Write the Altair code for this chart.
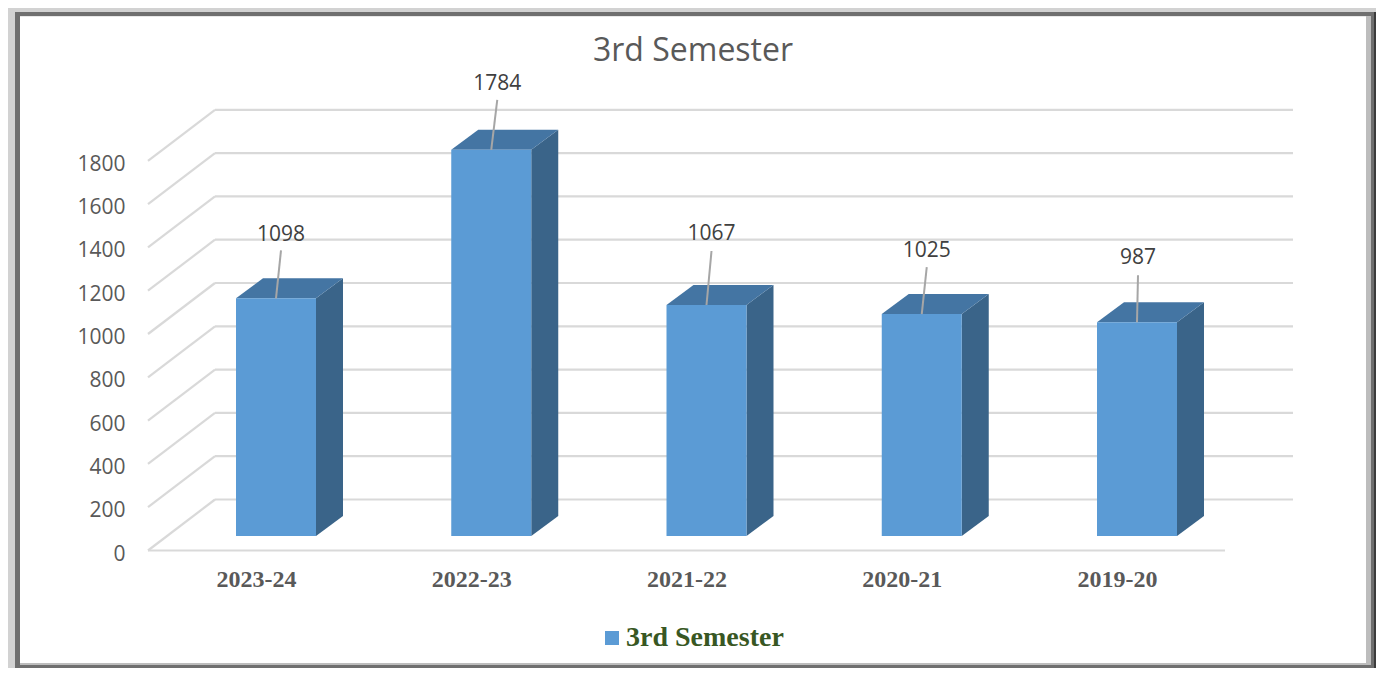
import altair as alt
import pandas as pd

categories = ["2023-24", "2022-23", "2021-22", "2020-21", "2019-20"]
values = [1098, 1784, 1067, 1025, 987]
y_ticks = [0, 200, 400, 600, 800, 1000, 1200, 1400, 1600, 1800]
series_name = "3rd Semester"

W, H = 1368, 660
PX_PER_CAT = 215.25
PX_PER_VAL = 0.2165
X0_PX, Y0_PX = 268.0, 542.5


def dx(px):
    return px / PX_PER_CAT


def dv(px):
    return px / PX_PER_VAL


x_scale = alt.Scale(domain=[-X0_PX / PX_PER_CAT, (W - X0_PX) / PX_PER_CAT], nice=False, zero=False)
y_scale = alt.Scale(domain=[(Y0_PX - H) / PX_PER_VAL, Y0_PX / PX_PER_VAL], nice=False, zero=False)

LABEL_SHIFT = dx(20)
x_axis = alt.Axis(
    values=[i - LABEL_SHIFT for i in range(len(categories))],
    labelExpr="['" + "','".join(categories) + "'][round(datum.value + " + str(LABEL_SHIFT) + ")]",
    orient="bottom", offset=-(H - 559), title=None, grid=False, domain=False, ticks=False,
    labelFont="Liberation Serif", labelFontWeight="bold", labelFontSize=24, labelColor="#595959",
    labelPadding=0, labelOverlap=False, zindex=1, labelFlush=False,
)
y_axis = alt.Axis(
    values=y_ticks, orient="left", title=None, grid=False, domain=False, ticks=False, format="d",
    labelFont="Open Sans", labelFontSize=21, labelColor="#595959", labelPadding=-117,
    labelOffset=3.5, labelOverlap=False, zindex=1, labelFlush=False,
)


def X(f="x"):
    return alt.X(f + ":Q", scale=x_scale, axis=x_axis)


def Y(f="y"):
    return alt.Y(f + ":Q", scale=y_scale, axis=y_axis)


# geometry of the pseudo-3D box
WALL_DX, WALL_DY = 67, 51
FLOOR_LEFT = dx(148 - 276)
FLOOR_RIGHT = dx(1225 - 276)
BACK_RIGHT = dx(1293 - 276)
BAR_HALF = dx(40)
BAR_BASE = dv(14.5)
BAR_DX, BAR_DY = dx(27), dv(20)

# frame (pixel bands, not data)
frame_rects = [
    (0, 1368, 0, 660, "#D2D2D2"),
    (7, 1368, 4, 660, "#6F6F6F"),
    (1366, 1368, 4, 660, "#3C3C3C"),
    (12, 1363, 8, 657, "#BDBDBD"),
    (12, 1358, 8, 655, "#E8E8E8"),
    (12, 1358, 9, 655, "#FFFFFF"),
]
one = alt.Data(values=[{}])
layers = [
    alt.Chart(one).mark_rect(color=c).encode(
        x=alt.value(a), x2=alt.value(b), y=alt.value(t), y2=alt.value(u))
    for a, b, t, u, c in frame_rects
]

# gridlines
grid_rows = []
for v in y_ticks:
    grid_rows.append(dict(x=FLOOR_LEFT, x2=FLOOR_LEFT + dx(WALL_DX), y=v, y2=v + dv(WALL_DY)))
    grid_rows.append(dict(x=FLOOR_LEFT + dx(WALL_DX), x2=BACK_RIGHT, y=v + dv(WALL_DY), y2=v + dv(WALL_DY)))
grid_rows.append(dict(x=FLOOR_LEFT, x2=FLOOR_RIGHT, y=0, y2=0))
layers.append(
    alt.Chart(pd.DataFrame(grid_rows)).mark_rule(color="#D9D9D9", strokeWidth=2.2).encode(
        x=X(), x2="x2:Q", y=Y(), y2="y2:Q")
)

# side and top faces
side_rows, top_rows, bar_rows, leader_rows, label_rows = [], [], [], [], []
leader_dx = [5, 6, 5, 5, 1]
leader_h = [48, 50, 54, 47, 47]
label_gap = [15, 16, 17, 16, 17]
for i, (cat, val) in enumerate(zip(categories, values)):
    L, R = i - BAR_HALF, i + BAR_HALF
    base, top = BAR_BASE, val + BAR_BASE
    side_rows += [
        dict(id=i, x=R, y=base, y2=top),
        dict(id=i, x=R + BAR_DX, y=base + BAR_DY, y2=top + BAR_DY),
    ]
    top_rows += [
        dict(id=i, x=L, y=top, y2=top),
        dict(id=i, x=L + BAR_DX, y=top, y2=top + BAR_DY),
        dict(id=i, x=R, y=top, y2=top + BAR_DY),
        dict(id=i, x=R + BAR_DX, y=top + BAR_DY, y2=top + BAR_DY),
    ]
    bar_rows.append(dict(x=L, x2=R, y=base, y2=top, series=series_name, cat=cat))
    lead_top = top + dv(leader_h[i])
    lead_x = i + dx(leader_dx[i])
    leader_rows.append(dict(x=i, x2=lead_x, y=top, y2=lead_top))
    label_rows.append(dict(x=lead_x, y=lead_top + dv(label_gap[i]), label=str(val)))

layers.append(
    alt.Chart(pd.DataFrame(side_rows)).mark_area(color="#3A6489", orient="vertical").encode(
        x=X(), y=Y(), y2="y2:Q", detail="id:N")
)
layers.append(
    alt.Chart(pd.DataFrame(top_rows)).mark_area(color="#4475A3", orient="vertical").encode(
        x=X(), y=Y(), y2="y2:Q", detail="id:N")
)
layers.append(
    alt.Chart(pd.DataFrame(bar_rows)).mark_rect().encode(
        x=X(), x2="x2:Q", y=Y(), y2="y2:Q",
        color=alt.Color(
            "series:N",
            scale=alt.Scale(domain=[series_name], range=["#5B9BD5"]),
            legend=alt.Legend(
                orient="none", legendX=590, legendY=616, title=None, symbolType="square",
                symbolSize=196, symbolStrokeWidth=0, labelFont="Liberation Serif",
                labelFontWeight="bold", labelFontSize=28, labelColor="#385723",
                labelOffset=0, zindex=1,
            ),
        ),
    )
)
layers.append(
    alt.Chart(pd.DataFrame(leader_rows)).mark_rule(color="#A6A6A6", strokeWidth=2).encode(
        x=X(), x2="x2:Q", y=Y(), y2="y2:Q")
)
layers.append(
    alt.Chart(pd.DataFrame(label_rows)).mark_text(
        font="Open Sans", fontSize=21, color="#404040", align="center", baseline="middle"
    ).encode(x=X(), y=Y(), text="label:N")
)

chart = alt.layer(*layers).properties(
    width=W, height=H, padding=0,
    autosize=alt.AutoSizeParams(type="none"),
    title=alt.TitleParams(
        text=series_name, font="Open Sans", fontSize=32, fontWeight="normal", color="#595959",
        anchor="middle", frame="group", dy=64, dx=1, zindex=1,
    ),
).configure_view(stroke=None)

chart.save("out.html", embed_options={"renderer": "svg", "actions": False})
